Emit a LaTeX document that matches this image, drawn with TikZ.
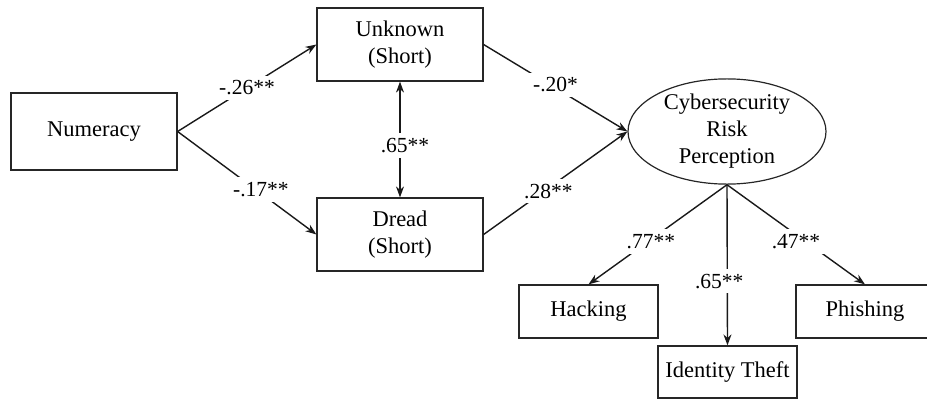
\documentclass[tikz,border=0pt]{standalone}
\usepackage{fontspec}
\setmainfont{Liberation Serif}
\usetikzlibrary{arrows.meta,shapes.geometric}

\tikzset{
  box/.style={draw=black!85, line width=1.2pt, rectangle, align=center, inner sep=0pt},
  latent/.style={draw=black!85, line width=1.2pt, ellipse, align=center, inner sep=0pt},
  path/.style={draw=black!90, line width=1.4pt, -{Stealth[length=11pt,width=8pt]}},
  twoway/.style={draw=black!90, line width=1.4pt, {Stealth[length=11pt,width=8pt]}-{Stealth[length=11pt,width=8pt]}},
  coef/.style={fill=white, inner sep=5pt, font=\fontsize{21.5}{25}\selectfont}
}

\begin{document}
\begin{tikzpicture}[x=1pt, y=-1pt, font=\fontsize{22.5}{27}\selectfont]
  \useasboundingbox (0,0) rectangle (927,399);

  % observed and latent variables
  \node[box, minimum width=166pt, minimum height=77pt] (num)   at (94,131.5)  {Numeracy};
  \node[box, minimum width=166pt, minimum height=73pt] (unk)   at (400,44.5)  {Unknown\\(Short)};
  \node[box, minimum width=166pt, minimum height=73pt] (dread) at (400,234.5) {Dread\\(Short)};
  \node[latent, minimum width=198pt, minimum height=101pt] (risk) at (727,131.5) {Cybersecurity\\Risk\\Perception};
  \node[box, minimum width=139pt, minimum height=53pt] (hack)  at (588.5,311.5) {Hacking};
  \node[box, minimum width=139pt, minimum height=52pt] (idt)   at (727.5,372)   {Identity Theft};
  \node[box, minimum width=138pt, minimum height=53pt] (phish) at (865,311.5)   {Phishing};

  % structural paths
  \draw[path] (num.east) -- node[coef, pos=0.5] {-.26**} (unk.west);
  \draw[path] (num.east) -- node[coef, pos=0.6, yshift=4pt] {-.17**} (dread.west);
  \draw[twoway] (unk.south) -- node[coef, pos=0.55, xshift=5pt] {.65**} (dread.north);
  \draw[path] (unk.east) -- node[coef, pos=0.5, yshift=3pt] {-.20*} (risk.west);
  \draw[path] (dread.east) -- node[coef, pos=0.45, yshift=-3pt] {.28**} (risk.west);

  % measurement paths
  \draw[path] (risk.south) -- node[coef, pos=0.55, yshift=-2pt] {.77**} (hack.north);
  \draw[path] (risk.south) -- node[coef, pos=0.6, xshift=-8pt] {.65**} (idt.north);
  \draw[path] (risk.south) -- node[coef, pos=0.5, yshift=-7pt] {.47**} (phish.north);
\end{tikzpicture}
\end{document}
